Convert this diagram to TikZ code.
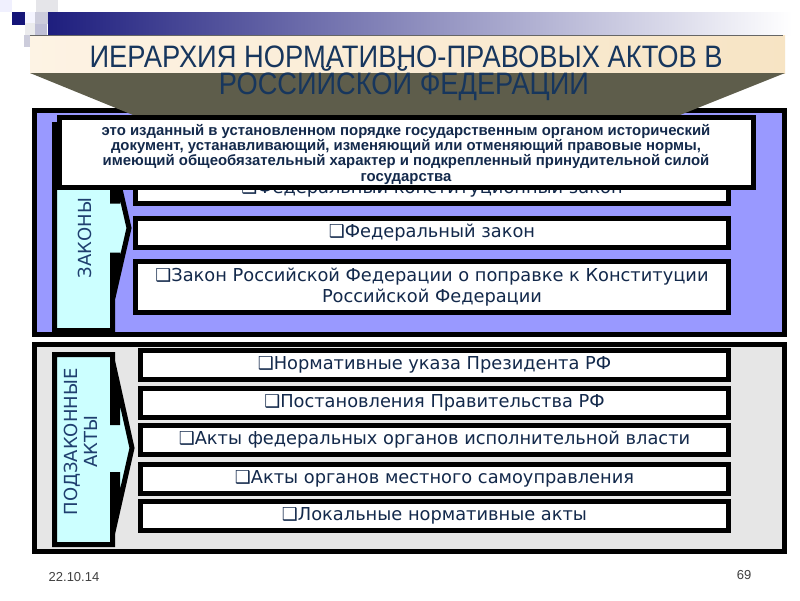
\documentclass[tikz,border=0pt]{standalone}
\usepackage{fontspec}
\usepackage{graphicx}
\setmainfont{DejaVu Sans}
\newfontfamily\titlefont{Liberation Sans}
\newfontfamily\dv{DejaVu Sans}
\newfontfamily\lib{Liberation Sans}
\definecolor{lav}{HTML}{9999FF}
\definecolor{labcyan}{HTML}{CCFFFF}
\definecolor{paneltwo}{HTML}{E6E6E6}
\definecolor{olivegray}{HTML}{5E5D4B}
\definecolor{beigeL}{HTML}{FDF3E4}
\definecolor{beigeR}{HTML}{F7E4C4}
\definecolor{barnavy}{HTML}{1E1E7E}
\definecolor{sqnavy}{HTML}{141478}
\definecolor{titletext}{HTML}{17365D}
\definecolor{itemtext}{HTML}{13294B}
\definecolor{labtext}{HTML}{1F3F6F}
\definecolor{deftext}{HTML}{13294B}
\begin{document}
\begin{tikzpicture}[x=1pt,y=-1pt,
  itembox/.style={draw=black,line width=5pt,fill=white,text=itemtext,inner sep=0pt,align=center,font=\dv\fontsize{17.8}{21}\selectfont},
  panelbox/.style={draw=black,line width=5pt,inner sep=0pt},
  labelshape/.style={draw=black,line width=5pt,fill=labcyan,line join=miter},
  labeltext/.style={text=labtext,font=\dv\fontsize{18}{19.5}\selectfont,rotate=90,align=center,inner sep=0pt},
  titlest/.style={text=titletext,font=\titlefont\fontsize{31}{31}\selectfont,inner sep=0pt,anchor=base},
  footst/.style={text=black!75,font=\lib\fontsize{13}{13}\selectfont,inner sep=0pt}]
\useasboundingbox (0,0) rectangle (800,600);
\fill[white] (0,0) rectangle (800,600);
% decorative squares
\fill[black!8!blue!6] (0,0) rectangle (12,12);
\fill[blue!12!black!10] (36,0) rectangle (58,12);
\shade[left color=barnavy,right color=white] (48,12) rectangle (792,35);
\fill[sqnavy] (12,12) rectangle (25,25);
\fill[blue!4] (25,12) rectangle (35,23);
\fill[blue!30!black!20] (35,12) rectangle (48,24);
\fill[blue!10!black!8] (25,23) rectangle (35,35);
\fill[blue!35!black!25] (35,24) rectangle (47,35);
\fill[blue!30!black!20] (24,35) rectangle (30,47);
% beige band
\shade[left color=beigeL,right color=beigeR] (30,35) rectangle (785,73);
\draw[line width=1pt,black!60] (30,35) -- (783,35);
% panels
\node[panelbox,fill=lav,minimum width=750pt,minimum height=224pt] (p1) at (409.5,222.5) {};
\node[panelbox,fill=paneltwo,minimum width=750pt,minimum height=206.5pt] (p2) at (409.5,447.75) {};
% label arrows
\draw[labelshape] (54.5,124.5) -- (112.5,124.5) -- (112.5,201) -- (117.5,201) -- (117.5,178) -- (129,228) -- (117.5,278) -- (117.5,255) -- (112.5,255) -- (112.5,330.5) -- (54.5,330.5) -- cycle;
\draw[labelshape] (54.5,354.5) -- (112.5,354.5) -- (112.5,422.5) -- (117.5,422.5) -- (117.5,383) -- (132,448) -- (117.5,512) -- (117.5,474.5) -- (112.5,474.5) -- (112.5,544.5) -- (54.5,544.5) -- cycle;
\node[labeltext] (lz) at (85,238) {ЗАКОНЫ};
\node[labeltext] (lp) at (81,442) {ПОДЗАКОННЫЕ\\АКТЫ};
% law boxes
\node[itembox,minimum width=593pt,minimum height=29pt] (b1) at (432,189) {❑Федеральный конституционный закон};
\node[itembox,minimum width=593pt,minimum height=29pt] (b2) at (432,233) {❑Федеральный закон};
\node[itembox,minimum width=593pt,minimum height=51pt] (b3) at (432,287) {❑Закон Российской Федерации о поправке к Конституции\\Российской Федерации};
% by-law boxes
\node[itembox,minimum width=588pt,minimum height=29pt] (c1) at (434.5,365) {❑Нормативные указа Президента РФ};
\node[itembox,minimum width=588pt,minimum height=29pt] (c2) at (434.5,402.5) {❑Постановления Правительства РФ};
\node[itembox,minimum width=588pt,minimum height=29pt] (c3) at (434.5,440) {❑Акты федеральных органов исполнительной власти};
\node[itembox,minimum width=588pt,minimum height=29pt] (c4) at (434.5,478.5) {❑Акты органов местного самоуправления};
\node[itembox,minimum width=588pt,minimum height=29pt] (c5) at (434.5,516) {❑Локальные нормативные акты};
% olive trapezoid
\fill[olivegray] (30,73) -- (785,73) -- (680,115) -- (133,115) -- cycle;
% title
\node[titlest] (t1) at (406,67) {\resizebox{633pt}{\height}{ИЕРАРХИЯ НОРМАТИВНО-ПРАВОВЫХ АКТОВ В}};
\node[titlest] (t2) at (404,94) {\resizebox{370pt}{\height}{РОССИЙСКОЙ ФЕДЕРАЦИИ}};
% definition overlay
\node[draw=black,line width=5pt,fill=white,minimum width=693.5pt,minimum height=70pt,inner sep=0pt] (def) at (406.25,152.5) {};
\node[text=deftext,font=\lib\bfseries\fontsize{14.9}{14}\selectfont,align=center,inner sep=0pt] (deft) at (406,154.5) {это изданный в установленном порядке государственным органом исторический\\документ, устанавливающий, изменяющий или отменяющий правовые нормы,\\имеющий общеобязательный характер и подкрепленный принудительной силой\\[2pt]государства};
% footer
\node[footst] (date) at (74,577) {22.10.14};
\node[footst] (num) at (744,575) {69};
\end{tikzpicture}
\end{document}
